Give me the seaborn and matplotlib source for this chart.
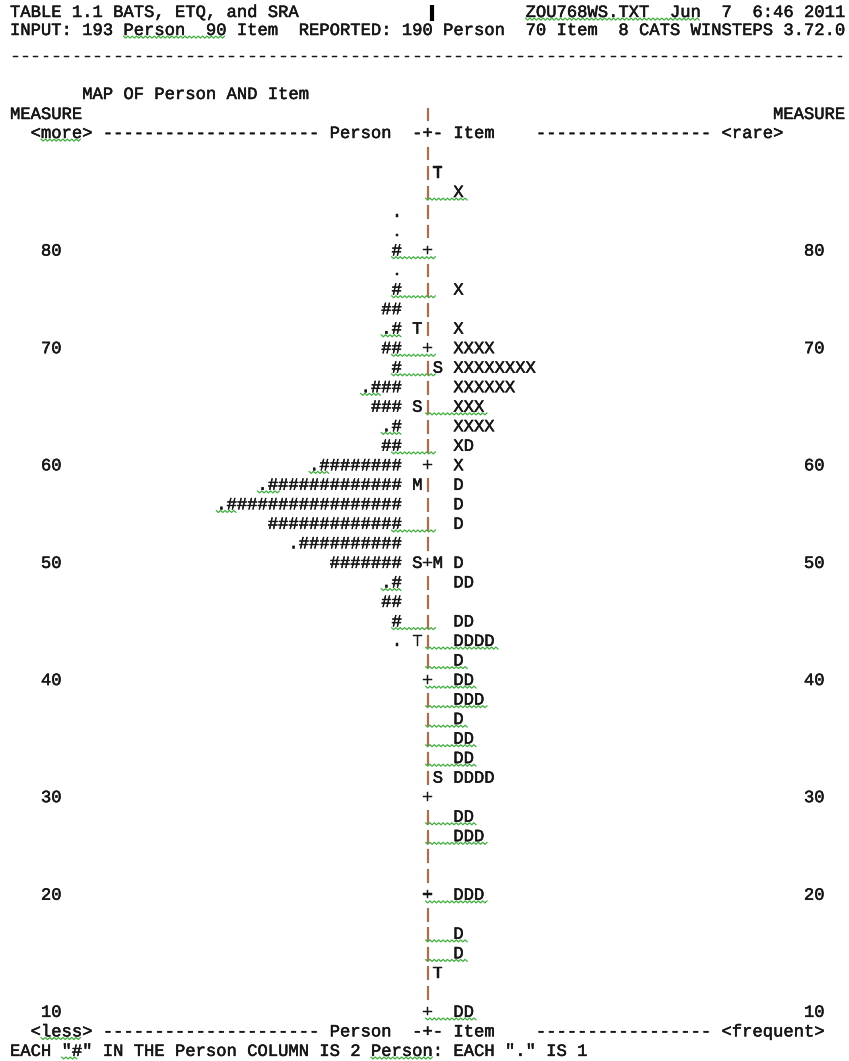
import numpy as np
import pandas as pd
import matplotlib
matplotlib.use("Agg")
import matplotlib.pyplot as plt
import matplotlib.patheffects as pe
import seaborn as sns

# --- data: one entry per map row, top (row 0) to bottom (row 44) ---
person_hash = [0, 0, 0, 0, 0, 1, 0, 1, 2, 1,
               2, 1, 3, 3, 1, 2, 8, 13, 17, 13,
               10, 7, 1, 2, 1, 0, 0, 0, 0, 0,
               0, 0, 0, 0, 0, 0, 0, 0, 0, 0,
               0, 0, 0, 0, 0]
person_dot = [0, 0, 0, 1, 1, 0, 1, 0, 0, 1,
              0, 0, 1, 0, 1, 0, 1, 1, 1, 0,
              1, 0, 1, 0, 0, 1, 0, 0, 0, 0,
              0, 0, 0, 0, 0, 0, 0, 0, 0, 0,
              0, 0, 0, 0, 0]
item_x = [0, 0, 1, 0, 0, 0, 0, 1, 0, 1,
          4, 8, 6, 3, 4, 1, 1, 0, 0, 0,
          0, 0, 0, 0, 0, 0, 0, 0, 0, 0,
          0, 0, 0, 0, 0, 0, 0, 0, 0, 0,
          0, 0, 0, 0, 0]
item_d = [0, 0, 0, 0, 0, 0, 0, 0, 0, 0,
          0, 0, 0, 0, 0, 1, 0, 1, 1, 1,
          0, 1, 2, 0, 2, 4, 1, 2, 3, 1,
          2, 2, 4, 0, 2, 3, 0, 0, 3, 0,
          1, 1, 0, 0, 2]
person_mark = {9: "T", 13: "S", 17: "M", 21: "S", 25: "T"}
item_mark = {1: "T", 11: "S", 21: "M", 32: "S", 42: "T"}
measure_rows = [5, 10, 16, 21, 27, 33, 38, 44]
measure_vals = [80, 70, 60, 50, 40, 30, 20, 10]

# spell-check squiggles seen in the screenshot: (line, row, col start, col end)
squiggles = [("r", 2, 40.3, 44.4), ("r", 5, 37, 41.4), ("r", 7, 37, 41.4),
             ("r", 9, 36, 38), ("r", 10, 37, 41.4), ("r", 11, 37, 41.4),
             ("r", 12, 34, 36), ("r", 13, 40.3, 46.4), ("r", 14, 36, 38),
             ("r", 15, 37, 41.4), ("r", 16, 29, 31), ("r", 17, 24, 26.3),
             ("r", 18, 20, 22), ("r", 19, 37, 41.4), ("r", 22, 36, 38),
             ("r", 24, 37, 41.4), ("r", 25, 40.3, 47.5), ("r", 26, 40.3, 44.4),
             ("r", 27, 40.3, 45.4), ("r", 28, 40.3, 46.4), ("r", 29, 40.3, 44.4),
             ("r", 30, 40.3, 45.4), ("r", 31, 40.3, 45.4), ("r", 34, 40.3, 45.4),
             ("r", 35, 40.3, 46.4), ("r", 38, 40.3, 46.4), ("r", 40, 40.3, 44.4),
             ("r", 41, 40.3, 44.4), ("r", 44, 40.3, 45.4),
             ("h1", 0, 50, 67), ("h2", 0, 11, 21), ("more", 0, 3, 7),
             ("less", 0, 3, 7), ("each", 0, 5, 6.5), ("each", 0, 35, 41)]

# --- layout (pixels) ---
W, H = 849, 1061
X0, CW = 10, 10.31          # left margin, character cell width
ROW0, RH = 153, 19.52       # first map row centre, line height
line_y = {"h1": 12, "h2": 30, "dash": 56, "map": 94, "measure": 114,
          "more": 133, "less": ROW0 + 45 * RH, "each": ROW0 + 46 * RH}
AXIS = 40
ink = "#161616"
bar = "#a8704f"
green = "#3fae3f"

sns.set_theme(style="white")
plt.rcParams["font.family"] = ["Liberation Mono", "DejaVu Sans Mono"]
fs = CW / 0.6 * 72 / 100
bold = [pe.withStroke(linewidth=0.35, foreground=ink)]
bar_fx = [pe.withStroke(linewidth=0.9, foreground=bar)]

fig = plt.figure(figsize=(W / 100, H / 100), dpi=100)
ax = fig.add_axes([0, 0, 1, 1])


def put(buf, col, s):
    for i, ch in enumerate(s):
        buf[col + i] = ch


def blank():
    return [" "] * 82


def line(y, buf, c0=0, c1=82):
    s = "".join(buf[c0:c1]).rstrip()
    if s.strip():
        ax.text(c0, y + 5, s, fontsize=fs, color=ink, ha="left",
                va="baseline", path_effects=bold)


def axis_char(y, ch):
    if ch == "|":
        ax.text(AXIS + 0.5, y - 0.5, ch, fontsize=fs * 0.8, color=bar,
                ha="center", va="center", path_effects=bar_fx)
    else:
        ax.text(AXIS + 0.5, y + 5, ch, fontsize=fs, color=ink,
                ha="center", va="baseline", path_effects=bold)


# header
b = blank()
put(b, 0, "TABLE 1.1 BATS, ETQ, and SRA")
put(b, 50, "ZOU768WS.TXT  Jun  7  6:46 2011")
line(line_y["h1"], b)
b = blank()
put(b, 0, "INPUT: 193 Person  90 Item  REPORTED: 190 Person  70 Item  8 CATS WINSTEPS 3.72.0")
line(line_y["h2"], b)
line(line_y["dash"], list("-" * 81))
ax.plot([40.9, 40.9], [5, 21], color="black", lw=3, solid_capstyle="butt")

b = blank()
put(b, 7, "MAP OF Person AND Item")
line(line_y["map"], b)
b = blank()
put(b, 0, "MEASURE")
put(b, 74, "MEASURE")
line(line_y["measure"], b, 0, 40)
line(line_y["measure"], b, 41, 82)
axis_char(line_y["measure"], "|")

for key, lo, hi in [("more", "<more>", "<rare>"), ("less", "<less>", "<frequent>")]:
    b = blank()
    put(b, 2, lo)
    put(b, 9, "-" * 21)
    put(b, 31, "Person")
    put(b, 39, "-+-")
    put(b, 43, "Item")
    put(b, 51, "-" * 17)
    put(b, 69, hi)
    line(line_y[key], b)

b = blank()
put(b, 0, 'EACH "#" IN THE Person COLUMN IS 2 Person: EACH "." IS 1')
line(line_y["each"], b)

# map rows: person side left of the axis column, items right of it
for r in range(len(person_hash)):
    y = ROW0 + r * RH
    b = blank()
    persons = "." * person_dot[r] + "#" * person_hash[r]
    if persons:
        put(b, 38 - len(persons), persons)
    if r in person_mark:
        put(b, 39, person_mark[r])
    if r in item_mark:
        put(b, 41, item_mark[r])
    items = "X" * item_x[r] + "D" * item_d[r]
    if items:
        put(b, 43, items)
    if r in measure_rows:
        v = str(measure_vals[measure_rows.index(r)])
        put(b, 5 - len(v), v)
        put(b, 79 - len(v), v)
    line(y, b, 0, 40)
    line(y, b, 41, 82)
    axis_char(y, "+" if r in measure_rows else "|")

# squiggles
pts = []
for k, (key, r, c0, c1) in enumerate(squiggles):
    y = (ROW0 + r * RH if key == "r" else line_y[key]) + 6.5
    xs = np.arange(c0, c1 + 1e-6, 2.2 / CW)
    for j, xv in enumerate(xs):
        pts.append((k, xv, y + (1.6 if j % 2 else -0.4)))
sq = pd.DataFrame(pts, columns=["sid", "x", "y"])
sns.lineplot(data=sq, x="x", y="y", units="sid", estimator=None, sort=False,
             color=green, lw=0.9, ax=ax, legend=False)

ax.set_xlim(-X0 / CW, (W - X0) / CW)
ax.set_ylim(H, 0)
ax.axis("off")

fig.savefig("out.png", dpi=100)
